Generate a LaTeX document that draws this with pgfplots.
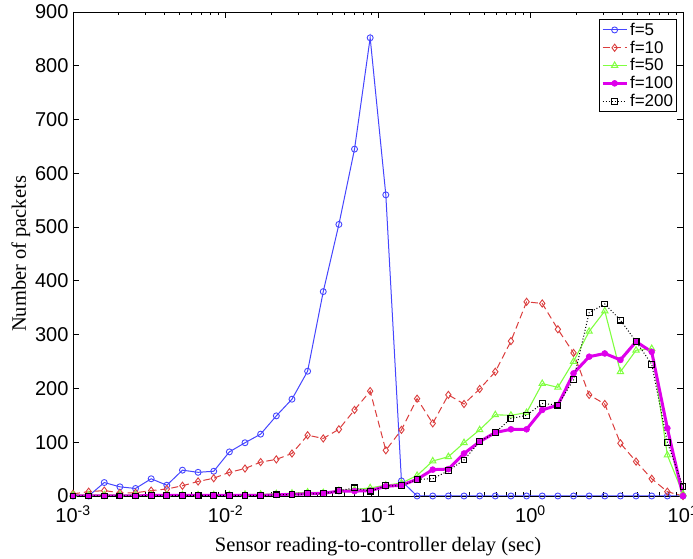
\documentclass[border=0pt]{standalone}
\usepackage{fontspec}
\setmainfont{Liberation Serif}
\setsansfont{Liberation Sans}
\usepackage{pgfplots}
\usepackage{pgfplotstable}
\pgfplotsset{compat=1.18}

\definecolor{cf5}{rgb}{0.27,0.27,1}
\definecolor{cf10}{rgb}{0.86,0.24,0.24}
\definecolor{cf50}{rgb}{0.5,1,0.25}
\definecolor{cf100}{rgb}{0.87,0,0.92}

% delay bins are logspace(-3,1,40)
\pgfplotstableread{
x          f5   f10  f50  f100 f200
0.001      0    4    2    0    0
0.0012663  0    8    2    0    0
0.0016035  25   10   2    0    0
0.0020306  17   6    2    0    0
0.0025713  14   6    2    0    0
0.0032561  32   10   2    1    1
0.0041232  20   13   2    1    1
0.0052213  48   19   2    1    1
0.0066117  44   27   2    1    1
0.0083725  46   33   2    1    1
0.010602   82   44   2    1    1
0.013426   99   51   3    1    1
0.017001   115  63   3    1    1
0.021544   149  68   4    2    2
0.027283   180  79   5    3    3
0.034551   232  113  7    4    4
0.043755   380  107  6    5    4
0.055410   505  124  10   9    10
0.070170   645  160  12   9    15
0.088862   852  195  15   10   9
0.11253    560  85   20   18   19
0.14251    28   123  24   20   19
0.18047    0    181  38   31   31
0.22854    0    135  65   49   32
0.28943    0    188  73   50   47
0.36652    0    171  99   79   67
0.46416    0    199  123  101  101
0.58780    0    231  151  118  118
0.74438    0    288  150  124  144
0.94267    0    361  155  124  150
1.1938     0    358  209  160  172
1.5118     0    310  202  169  169
1.9145     0    266  250  228  216
2.4245     0    188  306  259  341
3.0703     0    171  344  265  357
3.8882     0    98   231  253  327
4.9239     0    64   271  287  287
6.2355     0    32   274  268  245
7.8965     0    8    76   126  100
10         0    0    4    0    17
}\delays

\begin{document}
\begin{tikzpicture}
\begin{axis}[
    scale only axis,
    width=610pt, height=484pt,
    xmode=log,
    xmin=1e-3, xmax=10,
    ymin=0, ymax=900,
    ytick={0,100,...,900},
    xtick={1e-3,1e-2,1e-1,1,10},
    xticklabels={10\textsuperscript{-3},10\textsuperscript{-2},10\textsuperscript{-1},10\textsuperscript{0},10\textsuperscript{1}},
    tick align=inside,
    major tick length=6pt,
    minor tick length=3.5pt,
    axis line style={line width=0.9pt},
    every tick/.style={line width=0.8pt, black},
    /pgf/number format/assume math mode=true,
    ticklabel style={font=\sffamily\fontsize{20}{20}\selectfont},
    yticklabel style={xshift=-1pt},
    xticklabel style={yshift=-6pt},
    xlabel={Sensor reading-to-controller delay (sec)},
    ylabel={Number of packets},
    label style={font=\fontsize{20.5}{21}\selectfont},
    xlabel style={yshift=-7pt},
    ylabel style={yshift=-2pt},
    legend cell align=left,
    legend style={at={(rel axis cs:0.99,0.985)}, anchor=north east,
      draw=black, line width=0.6pt,
      font=\sffamily\fontsize{17}{17}\selectfont,
      row sep=0pt, inner sep=1.5pt},
    legend image code/.code={
      \draw[mark repeat=2,mark phase=2] plot coordinates {(0cm,0cm) (0.42cm,0cm) (0.84cm,0cm)};
    },
]
\addplot[cf5, line width=1pt, mark=o, mark size=3pt, mark options={solid, line width=0.9pt}]
  table[x=x, y=f5] {\delays};
\addplot[cf10, line width=1pt, dash pattern=on 7pt off 4pt, mark=diamond, mark size=3.6pt, mark options={solid, line width=0.9pt}]
  table[x=x, y=f10] {\delays};
\addplot[cf50, line width=1.1pt, mark=triangle, mark size=3.6pt, mark options={solid, line width=1pt}]
  table[x=x, y=f50] {\delays};
\addplot[cf100, line width=3pt, mark=*, mark size=3pt, mark options={solid, line width=0.5pt}]
  table[x=x, y=f100] {\delays};
\addplot[black, line width=1pt, dotted, mark=square, mark size=2.9pt, mark options={solid, line width=1.1pt}]
  table[x=x, y=f200] {\delays};
\legend{f=5,f=10,f=50,f=100,f=200}
\end{axis}
\pgfresetboundingbox
\path[use as bounding box] ([xshift=-73pt,yshift=-63pt]current axis.south west) rectangle ([xshift=10pt,yshift=12pt]current axis.north east);
\end{tikzpicture}
\end{document}
